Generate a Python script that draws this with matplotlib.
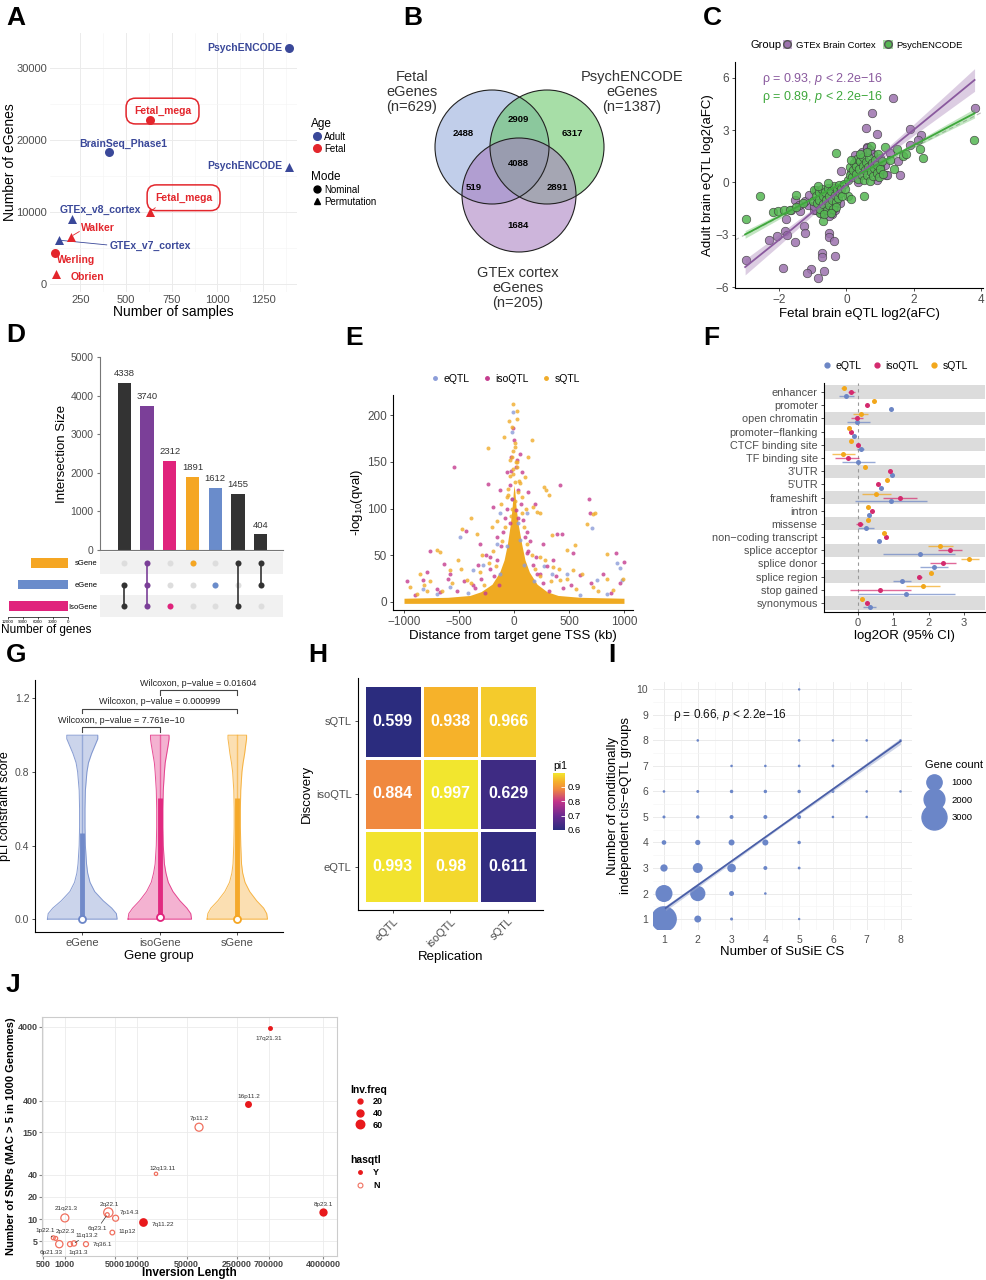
import numpy as np
import matplotlib
matplotlib.use("Agg")
import matplotlib.pyplot as plt
from matplotlib.patches import Circle, Patch
from matplotlib.lines import Line2D
from matplotlib.colors import LinearSegmentedColormap, Normalize

plt.rcParams["font.family"] = ["Liberation Sans", "DejaVu Sans"]
plt.rcParams["axes.unicode_minus"] = True
plt.rcParams["mathtext.fontset"] = "custom"
plt.rcParams["mathtext.rm"] = "Liberation Sans"
plt.rcParams["mathtext.it"] = "Liberation Sans:italic"
plt.rcParams["mathtext.bf"] = "Liberation Sans:bold"

W, H = 987, 1280
fig = plt.figure(figsize=(W / 100, H / 100), dpi=100)

TXT = "#4D4D4D"
GRID = "#EBEBEB"
ADULT = "#3A4899"
FETAL = "#E3262C"


def add_ax(l, t, r, b):
    """Axes from pixel box (left, top, right, bottom)."""
    return fig.add_axes([l / W, 1 - b / H, (r - l) / W, (b - t) / H])


def fx(px):
    return px / W


def fy(py):
    return 1 - py / H


def minimal(ax, fs=7.5):
    for s in ax.spines.values():
        s.set_visible(False)
    ax.grid(True, which="major", color=GRID, lw=0.7)
    ax.grid(True, which="minor", color="#F4F4F4", lw=0.4)
    ax.set_axisbelow(True)
    ax.tick_params(which="both", length=0, labelsize=fs, labelcolor=TXT)


def classic(ax, fs=8):
    ax.spines["top"].set_visible(False)
    ax.spines["right"].set_visible(False)
    ax.spines["left"].set_linewidth(0.8)
    ax.spines["bottom"].set_linewidth(0.8)
    ax.tick_params(length=2.5, width=0.6, labelsize=fs, labelcolor=TXT, color="#333333", pad=2)


def letter(px, py, s):
    fig.text(fx(px), fy(py), s, fontsize=19, fontweight="bold", ha="left", va="center")


def sz(d_px):
    return (d_px * 0.72) ** 2


# ====================== DATA ======================
# A: eGene discovery studies
a_name = ["PsychENCODE", "PsychENCODE", "Fetal_mega", "Fetal_mega", "BrainSeq_Phase1",
          "GTEx_v8_cortex", "GTEx_v7_cortex", "Walker", "Werling", "Obrien"]
a_samples = [1390, 1390, 630, 630, 410, 205, 136, 200, 115, 120]
a_egenes = [32800, 16300, 22800, 10000, 18300, 9100, 6100, 6600, 4300, 1400]
a_age = ["Adult", "Adult", "Fetal", "Fetal", "Adult", "Adult", "Adult", "Fetal", "Fetal", "Fetal"]
a_mode = ["Nominal", "Permutation", "Nominal", "Permutation", "Nominal",
          "Permutation", "Permutation", "Permutation", "Nominal", "Permutation"]

# B: Venn counts
venn_counts = [2488, 2909, 6317, 4088, 519, 2891, 1684]

# C: aFC comparison
c_gtex_x = [1.39, 0.76, 0.57, 0.91, 0.62, 3.81, 1.88, 2.22, 2.13, 1.88, 1.29, 1.53, 1.58, 1.19, 1.07,
            -0.15, -2.97, -2.28, -2.06, -1.83, -1.76, -1.52, -1.26, -1.23, -1.88, -1.06, -1.17, -0.83,
            -0.67, -0.73, -0.71, -0.33, -0.51, -0.51, -0.38, -1.63, -1.80, -1.37, -1.14, -1.24, -1.11,
            -0.97, -0.42, -1.53, -1.39,
            -0.9, -0.75, -0.6, -0.5, -0.35, -0.2, -0.95, -0.7, -0.4, 0.25, 0.45, 0.6, 0.8, 1.0, 1.15,
            1.2, 0.35, 0.9, 0.7, 0.15]
c_gtex_y = [4.82, 4.00, 3.09, 2.78, 2.02, 4.25, 3.05, 2.69, 2.44, 2.15, 1.68, 1.20, 0.40, 0.40, 0.50,
            0.67, -4.42, -3.28, -3.09, -2.80, -3.03, -3.43, -2.51, -2.90, -4.93, -4.95, -5.18, -5.47,
            -5.09, -4.04, -4.29, -4.23, -2.90, -3.12, -3.33, -1.60, -2.08, -1.66, -1.31, -1.09, -0.70,
            -1.56, -1.81, -0.99, -1.28,
            -1.6, -1.75, -1.45, -1.9, -1.6, -1.2, -1.35, -0.6, -0.3, 1.55, 1.75, 2.0, 1.6, 1.4, 1.0,
            0.45, 0.05, 0.15, 1.85, 0.6]
c_psy_x = [-2.97, -2.57, -2.16, -2.03, -1.86, -1.66, -1.50, -1.50, -1.29, -1.00, -0.89, -0.69, -0.79,
           -0.30, 0.05, 0.15, 0.51, 1.14, 1.49, 1.68, 1.78, 2.18, 2.28, 3.78, 1.41, 1.29, 0.99, 0.74,
           -0.95, -0.9, -0.88, -0.82, -0.8, -0.78, -0.72, -0.7, -0.68, -0.62, -0.6, -0.58, -0.55, -0.52,
           -0.5, -0.45, -0.42, -0.4, -0.38, -0.35, -0.32, -0.28, -0.25, -0.22, -0.2, -0.15, -0.12, -0.08,
           -0.05, -0.3, -0.65, -0.45, -0.85, -0.55,
           0.05, 0.1, 0.12, 0.18, 0.2, 0.22, 0.28, 0.3, 0.32, 0.35, 0.38, 0.4, 0.45, 0.48, 0.5, 0.52,
           0.55, 0.58, 0.62, 0.65, 0.68, 0.7, 0.72, 0.75, 0.8, 0.82, 0.85, 0.9, 0.92, 0.98, 1.0, 1.05,
           1.1, 0.6, 0.4, 0.15, 0.95]
c_psy_y = [-2.08, -0.76, -1.71, -1.66, -1.60, -1.60, -0.74, -1.41, -1.18, -1.09, -0.42, -2.23, -1.75,
           1.71, -0.80, -0.95, -0.80, 2.02, 1.90, 1.49, 1.64, 1.90, 1.39, 2.44, 0.76, 1.30, 0.91, 2.10,
           -0.45, -0.8, -1.2, -0.55, -1.0, -1.5, -0.35, -0.75, -1.25, -0.55, -1.0, -1.6, -0.3, -0.8,
           -1.3, -0.5, -1.0, -1.5, -0.2, -0.7, -1.15, -0.45, -0.9, -0.15, -0.6, -0.35, -0.75, -0.1,
           -0.4, -1.4, -1.8, -1.75, -0.2, -0.05,
           0.15, 0.45, 0.9, 0.3, 0.7, 1.1, 0.5, 0.95, 1.35, 0.2, 0.75, 1.2, 0.45, 0.95, 1.45, 0.15,
           0.7, 1.15, 0.4, 0.9, 1.4, 0.1, 0.6, 1.1, 0.35, 0.8, 1.3, 0.55, 1.0, 0.3, 0.75, 1.2,
           0.5, 1.75, 1.6, 1.3, 1.6]
# fitted lines and CI half widths
c_fit_x = [-3.0, -2.0, -1.0, 0.0, 1.0, 2.0, 3.0, 3.8]
c_gtex_fit = [-4.85, -3.3, -1.7, -0.13, 1.45, 3.02, 4.6, 5.87]
c_gtex_ci = [0.45, 0.32, 0.18, 0.1, 0.18, 0.32, 0.5, 0.65]
c_psy_fit = [-2.98, -1.96, -0.93, 0.09, 1.11, 2.13, 3.15, 3.96]
c_psy_ci = [0.22, 0.15, 0.08, 0.05, 0.08, 0.14, 0.21, 0.27]

# D: UpSet
d_sizes = [4338, 3740, 2312, 1891, 1612, 1455, 404]
d_colors = ["#333333", "#7B3F98", "#E0237C", "#F5A623", "#6A8CCB", "#333333", "#333333"]
d_sets = ["IsoGene", "eGene", "sGene"]
d_members = [(0, 1), (0, 1, 2), (0,), (2,), (1,), (0, 2), (1, 2)]
d_set_sizes = [11845, 10094, 7490]
d_set_colors = ["#E0237C", "#6A8CCB", "#F5A623"]

# E: QTL significance vs distance
e_sq_x = [-6, 30, -42, 24, -21, -91, 161, -239, 9, -6, 130, -36, 24, 100, -6, 55, 273, 291, 321, -52,
          -67, 70, 176, 212, 236, -394, 736, 715, 660, -470, -339, 342, -203, -158, -703, -673, 479,
          555, 842, -294, -855, -582, -506, 236, 358, 539, 994, -945, -794, -430, 418, 721, 903, -885,
          -15, 12, -28, 40, 5, -10, 18,
          -390, -310, -270, -230, -190, -160, -110, -85, -55, -35, -20, 10, 28, 45, 70, 95, 120, 160,
          190, 240, 280, 340, 410, 480, 560, -480, -560, -650, -760, 620, 760, 850, -820, -120, 110]
e_sq_y = [212, 205, 194, 196, 187, 177, 173, 165, 166, 162, 155, 152, 145, 134, 137, 127, 123, 120,
          115, 121, 112, 112, 102, 96, 95, 90, 95, 94, 83, 78, 73, 72, 80, 87, 56, 54, 56, 61, 51, 50,
          30, 34, 45, 48, 37, 34, 25, 16, 12, 23, 23, 16, 13, 9,
          100, 108, 92, 118, 128, 142, 150,
          20, 32, 18, 42, 55, 38, 65, 80, 115, 135, 155, 170, 150, 130, 95, 80, 62, 50,
          35, 28, 45, 22, 35, 25, 14, 35, 20, 12, 22, 30, 12, 25, 18, 105, 100]
e_iso_x = [-12, 0, 55, -30, -545, 24, -233, 418, -67, 70, -127, 130, 682, 691, -188, 191, -439, 394,
           433, -788, -633, 927, 1000, -158, 115, 539, -764, -976, -582, -309, 267, 358, 600, 812, 964,
           -673, -218, 236, -370, 115, -824, -20, 15, 35, -40,
           -350, -300, -260, -220, -180, -150, -120, -100, -80, -60, -40, -25, 20, 40, 60, 80, 100, 130,
           170, 210, 260, 320, 380, 450, -450, -520, -600, -250, 150, 200, -140, 300, -330, 520, -700,
           700, 880, -900]
e_iso_y = [186, 173, 159, 155, 145, 152, 126, 125, 139, 139, 120, 118, 110, 95, 102, 105, 76, 73, 73,
           32, 41, 52, 43, 70, 75, 52, 55, 22, 30, 62, 62, 45, 29, 30, 20, 11, 48, 30, 18, 52, 23,
           110, 98, 90, 85,
           15, 25, 10, 35, 28, 45, 60, 75, 90, 100, 125, 140, 145, 120, 105, 88, 70, 55,
           40, 30, 20, 12, 28, 15, 22, 12, 25, 50, 65, 48, 18, 38, 40, 18, 14,
           20, 10, 8]
e_e_x = [-6, -21, 712, 964, 979, -703, -491, -582, 273, 479, 751, -370, -158, 55, -824, 842, 933, 115,
         -127, -280, -130, 90, 180, -60, 40, 350, -420, 600, -20]
e_e_y = [203, 182, 79, 36, 23, 9, 70, 16, 39, 30, 23, 34, 62, 66, 14, 9, 42, 95, 95,
         40, 30, 40, 22, 60, 85, 30, 10, 8, 110]
# outline of the saturated core of overlapping points
e_core_x = [-1000, -600, -400, -300, -200, -130, -90, -60, -35, -18, -6, 0, 8, 20, 40, 70, 100, 140,
            210, 300, 400, 600, 1000]
e_core_top = [4, 5, 7, 11, 19, 32, 45, 62, 82, 100, 118, 125, 118, 100, 82, 62, 45, 32,
              19, 11, 7, 5, 4]

# F: enrichment
f_cats = ["enhancer", "promoter", "open chromatin", "promoter\u2212flanking", "CTCF binding site",
          "TF binding site", "3'UTR", "5'UTR", "frameshift", "intron", "missense",
          "non\u2212coding transcript", "splice acceptor", "splice donor", "splice region",
          "stop gained", "synonymous"]
f_e = [-0.35, 0.92, -0.02, -0.12, 0.07, 0.0, 0.96, 0.66, 0.92, 0.30, 0.22, 0.58, 1.75, 2.14, 1.25, 1.37, 0.33]
f_e_lo = [-0.55, 0.88, -0.33, -0.17, -0.03, -0.47, 0.90, 0.61, -0.09, 0.26, 0.0, 0.54, 0.71, 1.75, 0.99, 0.0, 0.14]
f_e_hi = [-0.12, 0.96, 0.33, -0.07, 0.17, 0.47, 1.02, 0.71, 1.95, 0.34, 0.44, 0.62, 2.74, 2.55, 1.51, 2.74, 0.52]
f_iso = [-0.19, 0.25, -0.02, -0.19, 0.0, -0.29, 0.90, 0.56, 1.20, 0.38, 0.05, 0.80, 2.61, 2.41, 1.73, 0.61, 0.24]
f_iso_lo = [-0.29, 0.21, -0.2, -0.24, -0.05, -0.66, 0.86, 0.52, 0.71, 0.34, -0.05, 0.76, 2.26, 2.03, 1.66, -0.24, 0.18]
f_iso_hi = [-0.09, 0.29, 0.15, -0.14, 0.05, 0.03, 0.94, 0.60, 1.67, 0.42, 0.15, 0.84, 2.95, 2.78, 1.80, 1.51, 0.30]
f_s = [-0.41, 0.45, 0.08, -0.25, -0.19, -0.42, 0.19, 0.83, 0.52, 0.27, 0.28, 0.73, 2.33, 3.16, 2.07, 1.84, 0.11]
f_s_lo = [-0.48, 0.41, -0.14, -0.3, -0.24, -0.75, 0.15, 0.79, 0.10, 0.23, 0.23, 0.69, 1.98, 2.92, 2.02, 1.37, 0.05]
f_s_hi = [-0.34, 0.49, 0.28, -0.2, -0.14, -0.09, 0.23, 0.87, 0.94, 0.31, 0.33, 0.77, 2.69, 3.42, 2.12, 2.31, 0.17]

# G: pLI violins (shape)
g_groups = ["eGene", "isoGene", "sGene"]
g_colors = ["#6C86C8", "#E0237C", "#F5A623"]
g_levels = [0, 0.03, 0.06, 0.1, 0.15, 0.2, 0.25, 0.3, 0.4, 0.5, 0.6, 0.7, 0.8, 0.85, 0.9, 0.95, 0.98, 1.0]
g_hw = [
    [0.45, 0.44, 0.38, 0.27, 0.16, 0.10, 0.07, 0.055, 0.04, 0.035, 0.035, 0.04, 0.06, 0.08, 0.12, 0.17, 0.20, 0.20],
    [0.41, 0.40, 0.35, 0.26, 0.17, 0.11, 0.08, 0.06, 0.045, 0.04, 0.04, 0.045, 0.06, 0.07, 0.09, 0.11, 0.12, 0.12],
    [0.39, 0.38, 0.34, 0.25, 0.16, 0.10, 0.07, 0.055, 0.045, 0.04, 0.04, 0.045, 0.06, 0.075, 0.095, 0.11, 0.12, 0.12],
]
g_q3 = [0.47, 0.66, 0.66]
g_med = [0.0, 0.01, 0.0]
g_tests = [(1, 2, 1.045, "Wilcoxon, p\u2212value = 7.761e\u221210"),
           (1, 3, 1.145, "Wilcoxon, p\u2212value = 0.000999"),
           (2, 3, 1.245, "Wilcoxon, p\u2212value = 0.01604")]

# H: pi1 replication
h_labels = ["eQTL", "isoQTL", "sQTL"]
h_vals = [[0.993, 0.98, 0.611],   # discovery eQTL
          [0.884, 0.997, 0.629],  # discovery isoQTL
          [0.599, 0.938, 0.966]]  # discovery sQTL

# I: SuSiE CS vs conditional groups
i_x = [1, 2, 3, 5, 1, 2, 3, 4, 1, 2, 3, 4, 5, 1, 2, 3, 4, 5, 1, 2, 3, 4, 5, 6, 7,
       1, 2, 3, 4, 5, 6, 7, 8, 3, 4, 5, 6, 2, 5, 6, 7, 8, 5]
i_y = [1, 1, 1, 1, 2, 2, 2, 2, 3, 3, 3, 3, 3, 4, 4, 4, 4, 4, 5, 5, 5, 5, 5, 5, 5,
       6, 6, 6, 6, 6, 6, 6, 6, 7, 7, 7, 7, 8, 8, 8, 8, 8, 10]
i_n = [3200, 140, 6, 1, 1280, 1000, 50, 2, 160, 360, 250, 22, 4, 40, 60, 90, 95, 12,
       6, 12, 22, 22, 22, 2, 2, 2, 5, 12, 12, 12, 6, 2, 2, 2, 2, 3, 4, 2, 3, 2, 2, 2, 1]
i_fit_x = [1.05, 4.5, 8.0]
i_fit_y = [1.43, 4.68, 7.97]
i_fit_ci = [0.1, 0.04, 0.12]

# J: inversions
j_name = ["17q21.31", "16p11.2", "7p11.2", "12q13.11", "8p23.1", "7q11.22", "2q22.1", "7p14.3",
          "6q23.1", "11p12", "21q21.3", "1p22.1", "2p22.3", "6p21.33", "1q31.3", "11q13.2", "7q36.1"]
j_len = [728000, 363000, 74300, 18660, 4000000, 12400, 4040, 5100, 3900, 4590, 1000, 690, 745,
         836, 1180, 1340, 1970]
j_snps = [3800, 360, 175, 41, 12.7, 9.3, 12.3, 10.3, 11.5, 6.6, 10.4, 5.6, 5.5, 4.6, 4.6, 4.7, 4.6]
j_freq = [20, 40, 53, 9, 57, 63, 71, 30, 13, 18, 53, 13, 13, 44, 21, 23, 21]
j_qtl = ["Y", "Y", "N", "N", "Y", "Y", "N", "N", "N", "N", "N", "N", "N", "N", "N", "N", "N"]

# ====================== PANEL A ======================
letter(6, 18, "A")
ax = add_ax(50, 33, 297, 292)
minimal(ax, fs=8)
ax.set_xlim(85, 1435)
ax.set_ylim(-1100, 34900)
ax.set_xticks([250, 500, 750, 1000, 1250])
ax.set_xticks([375, 625, 875, 1125, 1375], minor=True)
ax.set_yticks([0, 10000, 20000, 30000])
ax.set_yticks([5000, 15000, 25000], minor=True)
ax.tick_params(pad=2)
ax.set_xlabel("Number of samples", fontsize=10, labelpad=0)
ax.set_ylabel("Number of eGenes", fontsize=10)
ax.yaxis.set_label_coords(-0.135, 0.5)
for i in range(len(a_name)):
    col = ADULT if a_age[i] == "Adult" else FETAL
    mk = "o" if a_mode[i] == "Nominal" else "^"
    ax.scatter(a_samples[i], a_egenes[i], s=42, marker=mk, color=col, zorder=4, lw=0)

# label placement (ggrepel-like)
a_lab_pos = [(1354, 32800, "right"), (1354, 16400, "right"), (700, 24050, "center"),
             (815, 12000, "center"), (485, 19500, "center"), (360, 10300, "center"),
             (632, 5300, "center"), (345, 7800, "center"), (225, 3300, "center"), (290, 1000, "center")]
for i, (lx, ly, ha) in enumerate(a_lab_pos):
    col = ADULT if a_age[i] == "Adult" else FETAL
    kw = {}
    if a_name[i] == "Fetal_mega":
        kw["bbox"] = dict(boxstyle="round,pad=0.75,rounding_size=0.9", fc="none", ec=FETAL, lw=1.1)
    ax.text(lx, ly, a_name[i], color=col, fontsize=7.5, fontweight="bold", ha=ha, va="center",
            zorder=3, **kw)
ax.plot([136, 395], [6100, 5450], color=ADULT, lw=0.6, zorder=2)
ax.plot([212, 245], [6800, 7300], color=FETAL, lw=0.6, zorder=2)
ax.plot([630, 660], [10000, 10600], color=FETAL, lw=0.6, zorder=2)

h_age = [Line2D([], [], marker="o", ls="", color=c, ms=5.5) for c in (ADULT, FETAL)]
fig.legend(h_age, ["Adult", "Fetal"], title="Age", loc="upper left",
           bbox_to_anchor=(fx(306), fy(113)), frameon=False, fontsize=7,
           title_fontsize=8.5, handletextpad=0.2, labelspacing=0.2, borderpad=0,
           handlelength=1.2, alignment="left")
h_mode = [Line2D([], [], marker=m, ls="", color="black", ms=5) for m in ("o", "^")]
fig.legend(h_mode, ["Nominal", "Permutation"], title="Mode", loc="upper left",
           bbox_to_anchor=(fx(306), fy(166)), frameon=False, fontsize=7,
           title_fontsize=8.5, handletextpad=0.2, labelspacing=0.2, borderpad=0,
           handlelength=1.2, alignment="left")

# ====================== PANEL B ======================
letter(403, 18, "B")
axb = add_ax(380, 40, 690, 320)
axb.set_xlim(380, 690)
axb.set_ylim(320, 40)
axb.axis("off")
venn_circles = [(492, 147, "#8FA7DA"), (547, 147, "#5FC45F"), (519, 195, "#A578BE")]
for cx, cy, col in venn_circles:
    axb.add_patch(Circle((cx, cy), 57, fc=col, alpha=0.55, lw=0))
for cx, cy, col in venn_circles:
    axb.add_patch(Circle((cx, cy), 57, fc="none", ec="#222222", lw=0.8))
venn_pos = [(463, 134), (518, 119), (572, 134), (518, 163), (474, 187), (557, 187), (518, 226)]
for (tx, ty), v in zip(venn_pos, venn_counts):
    axb.text(tx, ty, str(v), fontsize=6.8, fontweight="bold", ha="center", va="center")
axb.text(412, 92, "Fetal\neGenes\n(n=629)", fontsize=10.5, ha="center", va="center", color="#333333",
         linespacing=1.05)
axb.text(632, 92, "PsychENCODE\neGenes\n(n=1387)", fontsize=10.5, ha="center", va="center",
         color="#333333", linespacing=1.05)
axb.text(518, 288, "GTEx cortex\neGenes\n(n=205)", fontsize=10.5, ha="center", va="center",
         color="#333333", linespacing=1.05)

# ====================== PANEL C ======================
letter(703, 18, "C")
PUR, PUR_L, PUR_D = "#9C72AE", "#C9AED6", "#8A5A9E"
GRN, GRN_L, GRN_D = "#55B752", "#A8DCA5", "#3FA83C"
axc = add_ax(735, 62, 983, 288)
classic(axc, fs=8.5)
axc.set_xlim(-3.3, 4.05)
axc.set_ylim(-6.05, 6.9)
axc.set_xticks([-2, 0, 2, 4])
axc.set_yticks([-6, -3, 0, 3, 6])
axc.set_yticklabels(["\u22126", "\u22123", "0", "3", "6"])
axc.set_xticklabels(["\u22122", "0", "2", "4"])
axc.plot([-3.3, 4.05], [-3.3, 4.05], ls=(0, (4, 3)), color="#BBBBBB", lw=0.8, zorder=1)
axc.scatter(c_gtex_x, c_gtex_y, s=sz(8.5), color=PUR, edgecolor="#3A3A3A", lw=0.5, alpha=0.85, zorder=2)
axc.scatter(c_psy_x, c_psy_y, s=sz(8.5), color=GRN, edgecolor="#3A3A3A", lw=0.5, alpha=0.85, zorder=3)
fxs = np.array(c_fit_x)
for fit, ci, lc, bc in ((c_gtex_fit, c_gtex_ci, PUR_D, PUR), (c_psy_fit, c_psy_ci, GRN_D, GRN)):
    fit = np.array(fit)
    ci = np.array(ci)
    axc.fill_between(fxs, fit - ci, fit + ci, color=bc, alpha=0.35, lw=0, zorder=4)
    axc.plot(fxs, fit, color=lc, lw=1.3, zorder=5)
axc.text(-2.5, 5.9, "\u03c1 = 0.93, $p$ < 2.2e\u221216", color=PUR_D, fontsize=9, va="center")
axc.text(-2.5, 4.9, "\u03c1 = 0.89, $p$ < 2.2e\u221216", color=GRN_D, fontsize=9, va="center")
axc.set_xlabel("Fetal brain eQTL log2(aFC)", fontsize=9.5, labelpad=1)
axc.set_ylabel("Adult brain eQTL log2(aFC)", fontsize=9.5, labelpad=1)
fig.text(fx(751), fy(45), "Group", fontsize=8, va="center")
hc = [(Patch(fc=PUR_L, ec="none"), Line2D([], [], marker="o", ls="", mfc=PUR, mec="#555555", ms=5.5)),
      (Patch(fc=GRN_L, ec="none"), Line2D([], [], marker="o", ls="", mfc=GRN, mec="#555555", ms=5.5))]
fig.legend(hc, ["GTEx Brain Cortex", "PsychENCODE"], ncol=2, loc="center left",
           bbox_to_anchor=(fx(778), fy(45)), frameon=False, fontsize=6.8, handlelength=1.0,
           handleheight=1.0, handletextpad=0.4, columnspacing=0.8, borderpad=0)

# ====================== PANEL D ======================
letter(6, 335, "D")
axd = add_ax(100, 357, 283, 550)
pos = np.arange(len(d_sizes))
axd.bar(pos, d_sizes, width=0.58, color=d_colors)
for p, v in zip(pos, d_sizes):
    axd.text(p, v + 120, str(v), ha="center", va="bottom", fontsize=6.8, color="#333333")
axd.set_xlim(-1.07, 6.98)
axd.set_ylim(0, 5000)
axd.set_xticks([])
axd.spines["top"].set_visible(False)
axd.spines["right"].set_visible(False)
axd.spines["left"].set_color("#777777")
axd.spines["bottom"].set_color("#777777")
axd.tick_params(axis="y", labelsize=7.5, labelcolor=TXT, length=2.5, color="#777777", pad=2)
axd.set_ylabel("Intersection Size", fontsize=9.5, labelpad=2)

axm = add_ax(100, 552, 283, 617)
axm.set_xlim(-1.07, 6.98)
axm.set_ylim(-0.5, 2.5)
for r in (0, 2):
    axm.axhspan(r - 0.5, r + 0.5, color="#F1F1F1", lw=0, zorder=0)
for c, members in enumerate(d_members):
    for r in range(3):
        axm.scatter(c, r, s=sz(6), color="#DDDDDD", lw=0, zorder=1)
    ys = list(members)
    axm.plot([c, c], [min(ys), max(ys)], color=d_colors[c], lw=1.2, zorder=2)
    axm.scatter([c] * len(ys), ys, s=sz(6), color=d_colors[c], lw=0, zorder=3)
axm.set_yticks(range(3))
axm.set_yticklabels(d_sets, fontsize=5.5)
axm.set_xticks([])
axm.tick_params(length=0, pad=2)
for s in axm.spines.values():
    s.set_visible(False)

axs = add_ax(8, 552, 68, 617)
axs.barh(range(3), d_set_sizes, height=0.46, color=d_set_colors)
axs.set_xlim(12000, 0)
axs.set_ylim(-0.5, 2.5)
axs.set_yticks([])
axs.set_xticks([12000, 9000, 6000, 3000, 0])
axs.tick_params(axis="x", labelsize=3.2, length=1.5, pad=1, width=0.5)
for s in ("top", "right", "left"):
    axs.spines[s].set_visible(False)
axs.spines["bottom"].set_linewidth(0.5)
fig.text(fx(1), fy(630), "Number of genes", fontsize=8.5, ha="left", va="center")

# ====================== PANEL E ======================
letter(345, 338, "E")
E_COL = {"eQTL": "#8C9DD9", "isoQTL": "#C53C8F", "sQTL": "#F0AC2A"}
axe = add_ax(393, 395, 633, 610)
classic(axe, fs=8.5)
axe.set_xlim(-1100, 1082)
axe.set_ylim(-8.6, 221.7)
axe.set_xticks([-1000, -500, 0, 500, 1000])
axe.set_xticklabels(["\u22121000", "\u2212500", "0", "500", "1000"])
axe.set_yticks([0, 50, 100, 150, 200])
axe.fill_between(e_core_x, -1.5, e_core_top, color="#EFAA22", lw=0, zorder=1)
axe.scatter(e_e_x, e_e_y, s=sz(4), color=E_COL["eQTL"], alpha=0.8, lw=0, zorder=2)
axe.scatter(e_iso_x, e_iso_y, s=sz(4), color=E_COL["isoQTL"], alpha=0.8, lw=0, zorder=3)
axe.scatter(e_sq_x, e_sq_y, s=sz(4), color=E_COL["sQTL"], alpha=0.8, lw=0, zorder=4)
axe.set_xlabel("Distance from target gene TSS (kb)", fontsize=9.5, labelpad=1)
axe.set_ylabel(r"-log$_{10}$(qval)", fontsize=9.5, labelpad=1)
he = [Line2D([], [], marker="o", ls="", color=E_COL[k], ms=2.5) for k in E_COL]
fig.legend(he, list(E_COL), ncol=3, loc="center", bbox_to_anchor=(fx(505), fy(379)), frameon=False,
           fontsize=7.5, handletextpad=0.3, columnspacing=1.2, handlelength=1.0, borderpad=0)

# ====================== PANEL F ======================
letter(703, 338, "F")
F_COL = {"eQTL": "#6C86C5", "isoQTL": "#D42A6E", "sQTL": "#F2A71B"}
axf = add_ax(824, 383, 985, 612)
classic(axf, fs=8)
n = len(f_cats)
ypos = np.arange(n)[::-1]
for i, y in enumerate(ypos):
    if i % 2 == 0:
        axf.axhspan(y - 0.5, y + 0.5, color="#DCDCDC", lw=0, zorder=0)
axf.axvline(0, color="#999999", ls=(0, (3, 3)), lw=0.8, zorder=1)
for vals, lo, hi, key, off in ((f_e, f_e_lo, f_e_hi, "eQTL", -0.3), (f_iso, f_iso_lo, f_iso_hi, "isoQTL", 0.0),
                               (f_s, f_s_lo, f_s_hi, "sQTL", 0.3)):
    yy = ypos + off
    axf.hlines(yy, lo, hi, color=F_COL[key], lw=1.0, alpha=0.7, zorder=2)
    axf.scatter(vals, yy, s=sz(5), color=F_COL[key], lw=0, zorder=3)
axf.set_xlim(-0.97, 3.6)
axf.set_ylim(-0.68, n - 1 + 0.68)
axf.set_yticks(ypos)
axf.set_yticklabels(f_cats, fontsize=7.8)
axf.set_xticks([0, 1, 2, 3])
axf.set_xlabel("log2OR (95% CI)", fontsize=9.5, labelpad=1)
hf = [Line2D([], [], marker="o", ls="", color=F_COL[k], ms=3.5) for k in F_COL]
fig.legend(hf, list(F_COL), ncol=3, loc="center", bbox_to_anchor=(fx(895), fy(366)), frameon=False,
           fontsize=7.5, handletextpad=0.3, columnspacing=1.0, handlelength=1.0, borderpad=0)

# ====================== PANEL G ======================
letter(6, 655, "G")
axg = add_ax(35, 680, 283, 932)
classic(axg, fs=8)
axg.set_xlim(0.39, 3.59)
axg.set_ylim(-0.07, 1.3)
lv = np.array(g_levels)
for i, grp in enumerate(g_groups):
    x0 = i + 1
    hw = np.array(g_hw[i])
    col = g_colors[i]
    axg.fill_betweenx(lv, x0 - hw, x0 + hw, color=col, alpha=0.35, lw=0)
    axg.plot(np.concatenate([x0 - hw, (x0 + hw)[::-1], [x0 - hw[0]]]),
             np.concatenate([lv, lv[::-1], [lv[0]]]), color=col, lw=0.7, alpha=0.8)
    axg.plot([x0, x0], [g_q3[i], 1.0], color=col, lw=1.0, alpha=0.55)
    axg.plot([x0, x0], [0, g_q3[i]], color=col, lw=3.5, solid_capstyle="butt", alpha=0.95)
    axg.scatter(x0, g_med[i], s=sz(7), facecolor="white", edgecolor=col, lw=1.3, zorder=5)
for a, b, yb, lab in g_tests:
    axg.plot([a, a, b, b], [yb - 0.025, yb, yb, yb - 0.025], color="#444444", lw=0.8)
    axg.text((a + b) / 2, yb + 0.012, lab, ha="center", va="bottom", fontsize=6.5, color="#222222")
axg.set_xticks([1, 2, 3])
axg.set_xticklabels(g_groups)
axg.set_yticks([0, 0.4, 0.8, 1.2])
axg.set_yticklabels(["0.0", "0.4", "0.8", "1.2"])
axg.tick_params(axis="y", labelsize=7.5, pad=1.5)
axg.set_xlabel("Gene group", fontsize=9.5, labelpad=1)
axg.set_ylabel("pLI constraint score", fontsize=9)
axg.yaxis.set_label_coords(-0.095, 0.5)

# ====================== PANEL H ======================
letter(308, 655, "H")
pi_cmap = LinearSegmentedColormap.from_list(
    "pi1", [(0.0, "#2B2C7E"), (0.25, "#6A2A90"), (0.5, "#C2338A"), (0.72, "#F08A3E"),
            (0.85, "#F6B02A"), (1.0, "#F2E62E")])
norm = Normalize(vmin=0.599, vmax=0.997)
axh = add_ax(358, 678, 543, 910)
classic(axh, fs=8)
edges = np.arange(0.5, 4.0, 1.0)
mesh = axh.pcolormesh(edges, edges, np.array(h_vals), cmap=pi_cmap, norm=norm,
                      edgecolors="white", linewidth=1.0)
for r in range(3):
    for c in range(3):
        axh.text(c + 1, r + 1, str(h_vals[r][c]), ha="center", va="center", color="white",
                 fontsize=11.5, fontweight="bold")
axh.set_xlim(0.396, 3.604)
axh.set_ylim(0.404, 3.596)
axh.set_xticks([1, 2, 3])
axh.set_xticklabels(h_labels, rotation=45, ha="right", rotation_mode="anchor")
axh.set_yticks([1, 2, 3])
axh.set_yticklabels(h_labels)
axh.set_xlabel("Replication", fontsize=9.5, labelpad=2)
axh.set_ylabel("Discovery", fontsize=9.5, labelpad=2)
cax = add_ax(553, 773, 565, 830)
cb = fig.colorbar(mesh, cax=cax)
cb.outline.set_visible(False)
cb.set_ticks([0.6, 0.7, 0.8, 0.9])
cax.tick_params(labelsize=6.8, color="white", direction="in", length=3, width=0.6, pad=2)
cax.set_title("pi1", fontsize=7.5, loc="left", pad=3)

# ====================== PANEL I ======================
letter(608, 655, "I")
I_COL = "#6B86C8"
axi = add_ax(653, 682, 912, 930)
minimal(axi, fs=7.5)
axi.set_xlim(0.675, 8.34)
axi.set_ylim(0.57, 10.29)
axi.set_xticks(range(1, 9))
axi.set_xticks(np.arange(1.5, 8.5, 1.0), minor=True)
axi.set_yticks(range(1, 11))
axi.set_yticks(np.arange(1.5, 10.5, 1.0), minor=True)
dpx = 2 + 0.42 * np.sqrt(np.array(i_n))
axi.scatter(i_x, i_y, s=sz(dpx), color=I_COL, lw=0, zorder=3)
ixf = np.array(i_fit_x)
iyf = np.array(i_fit_y)
ici = np.array(i_fit_ci)
axi.fill_between(ixf, iyf - ici, iyf + ici, color="#9AA8D0", alpha=0.5, lw=0, zorder=4)
axi.plot(ixf, iyf, color="#4A5FA8", lw=1.3, zorder=5)
axi.text(1.27, 9, "\u03c1 = 0.66, $p$ < 2.2e\u221216", fontsize=8.5, va="center", color="#111111")
axi.set_xlabel("Number of SuSiE CS", fontsize=9.5, labelpad=1)
axi.set_ylabel("Number of conditionally\nindependent cis\u2212eQTL groups", fontsize=9.5, labelpad=3)
hi = [Line2D([], [], marker="o", ls="", color=I_COL, ms=(2 + 0.42 * np.sqrt(v)) * 0.72)
      for v in (1000, 2000, 3000)]
fig.legend(hi, ["1000", "2000", "3000"], title="Gene count", loc="upper left",
           bbox_to_anchor=(fx(920), fy(755)), frameon=False, fontsize=6.8, title_fontsize=8,
           labelspacing=0.9, handletextpad=0.8, borderpad=0, alignment="left")

# ====================== PANEL J ======================
letter(6, 985, "J")
J_FILL, J_OPEN = "#E8191C", "#F0705F"
axj = add_ax(42, 1017, 337, 1256)
axj.set_xscale("log")
axj.set_yscale("log")
axj.set_xlim(480, 6.24e6)
axj.set_ylim(3.18, 5400)
for s in axj.spines.values():
    s.set_color("#CCCCCC")
    s.set_linewidth(0.8)
xt = [500, 1000, 5000, 10000, 50000, 250000, 700000, 4000000]
yt = [5, 10, 20, 40, 150, 400, 4000]
axj.set_xticks(xt)
axj.set_xticklabels([str(v) for v in xt])
axj.set_yticks(yt)
axj.set_yticklabels([str(v) for v in yt])
axj.xaxis.set_minor_locator(matplotlib.ticker.NullLocator())
axj.yaxis.set_minor_locator(matplotlib.ticker.NullLocator())
axj.grid(True, color="#EBEBEB", lw=0.6)
axj.set_axisbelow(True)
axj.tick_params(length=2, color="#888888", labelsize=6.5, labelcolor="#444444", pad=1)
for t in axj.get_xticklabels() + axj.get_yticklabels():
    t.set_fontweight("bold")
dj = 1.1 * np.sqrt(np.array(j_freq))
for i in range(len(j_name)):
    if j_qtl[i] == "Y":
        axj.scatter(j_len[i], j_snps[i], s=sz(dj[i]), color=J_FILL, lw=0, zorder=3)
    else:
        axj.scatter(j_len[i], j_snps[i], s=sz(dj[i]), facecolor="none", edgecolor=J_OPEN, lw=0.9, zorder=3)
# label offsets (points) for ggrepel-style placement
j_off = [(-1, -7), (0, 5.5), (0, 6), (5, 4), (0, 5), (14, -2), (1, 6), (10, 4), (-7, -10), (11, 1),
         (1, 7), (-6, 5), (7, 5), (-6, -6), (6, -6), (9, 6), (12, 0)]
for i, name in enumerate(j_name):
    ox, oy = j_off[i]
    arrow = None
    if name in ("6q23.1", "11q13.2", "1p22.1"):
        arrow = dict(arrowstyle="-", color="#333333", lw=0.5, shrinkA=0, shrinkB=1)
    axj.annotate(name, (j_len[i], j_snps[i]), xytext=(ox, oy), textcoords="offset points",
                 fontsize=4.6, ha="center", va="center", color="#333333", arrowprops=arrow)
axj.set_ylabel("Number of SNPs (MAC > 5 in 1000 Genomes)", fontsize=8, fontweight="bold", labelpad=1)
fig.text(fx(189), fy(1273), "Inversion Length", fontsize=8.5, fontweight="bold", ha="center", va="center")
hj1 = [Line2D([], [], marker="o", ls="", color=J_FILL, ms=1.1 * np.sqrt(v) * 0.72) for v in (20, 40, 60)]
fig.legend(hj1, ["20", "40", "60"], title="Inv.freq", loc="upper left", bbox_to_anchor=(fx(346), fy(1080)),
           frameon=False, labelspacing=0.3, handletextpad=0.5,
           borderpad=0, alignment="left", prop={"weight": "bold", "size": 6.5},
           title_fontproperties={"weight": "bold", "size": 7.5})
hj2 = [Line2D([], [], marker="o", ls="", color=J_FILL, ms=2.5),
       Line2D([], [], marker="o", ls="", mfc="none", mec=J_OPEN, ms=3.5, mew=0.8)]
fig.legend(hj2, ["Y", "N"], title="hasqtl", loc="upper left", bbox_to_anchor=(fx(346), fy(1150)),
           frameon=False, labelspacing=0.4, handletextpad=0.5, borderpad=0, alignment="left",
           prop={"weight": "bold", "size": 6.5}, title_fontproperties={"weight": "bold", "size": 7.5})

fig.savefig("out.png", dpi=100)
